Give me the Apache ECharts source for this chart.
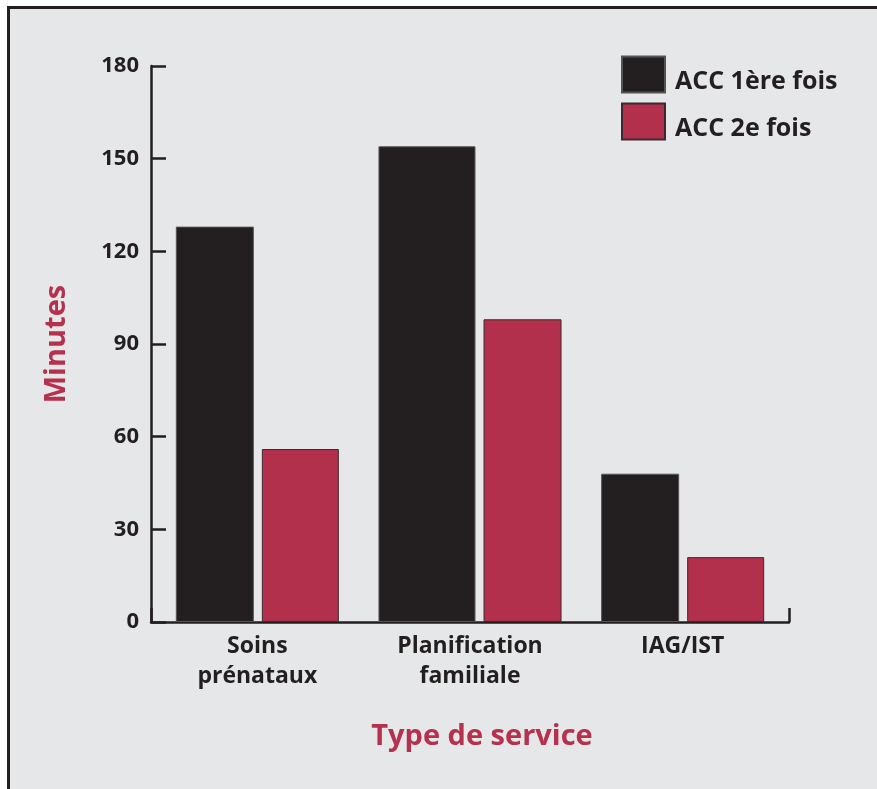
<!DOCTYPE html>
<html>
<head>
<meta charset="utf-8">
<script src="https://cdn.jsdelivr.net/npm/echarts@6/dist/echarts.min.js"></script>
<style>
  html, body { margin: 0; padding: 0; background: #ffffff; }
  #wrap { position: relative; width: 877px; height: 789px; overflow: hidden; background: #ffffff; }
  #panel { position: absolute; left: 7px; top: 6px; width: 900px; height: 900px;
           background: #e6e7e9; border: 3px solid #231f20; }
  #chart { position: absolute; left: 0; top: 0; width: 877px; height: 789px; }
</style>
</head>
<body>
<div id="wrap">
  <div id="panel"></div>
  <div id="chart"></div>
</div>
<script>
// Temps moyen (minutes) par type de service
const categories = ['Soins\nprénataux', 'Planification\nfamiliale', 'IAG/IST'];
const firstVisit = [128, 154, 48];   // ACC 1ère fois
const secondVisit = [56, 98, 21];    // ACC 2e fois
const yTicks = { min: 0, max: 180, step: 30 };
const seriesNames = ['ACC 1ère fois', 'ACC 2e fois'];

const INK = '#231f20';
const RED = '#b3304c';
const ACCENT = '#b5314e';
const FONT = '"Open Sans", "DejaVu Sans", sans-serif';

// The "Planification familiale" pair is drawn on its own (hidden) category axis,
// since its dark bar is wider than the others.
const wideIdx = 1;
const pick = (arr, keep) => arr.map((v, i) => (keep(i) ? v : '-'));

const chart = echarts.init(document.getElementById('chart'), null, { renderer: 'canvas' });

chart.setOption({
  backgroundColor: 'transparent',
  animation: false,
  grid: { left: 151, right: 88, top: 66, bottom: 167, containLabel: false },
  legend: {
    data: seriesNames,
    orient: 'vertical',
    left: 621,
    top: 55,
    padding: 0,
    itemWidth: 43,
    itemHeight: 36,
    itemGap: 8,
    icon: 'rect',
    formatter: '{t|{name}}',
    textStyle: {
      color: INK, fontFamily: FONT, fontWeight: 'bold', fontSize: 25,
      rich: {
        t: { color: INK, fontFamily: FONT, fontWeight: 'bold', fontSize: 25,
             lineHeight: 26, padding: [14, 0, 0, 5] }
      }
    }
  },
  xAxis: [
    {
      type: 'category',
      data: categories,
      axisLine: { show: true, lineStyle: { color: INK, width: 2.5 } },
      axisTick: {
        show: true, inside: true, length: 14,
        interval: (index) => index === 0,
        lineStyle: { color: INK, width: 2.5 }
      },
      axisLabel: {
        color: INK, fontFamily: FONT, fontWeight: 'bold', fontSize: 23,
        lineHeight: 30, margin: 9
      }
    },
    {
      type: 'category',
      data: categories,
      show: false
    }
  ],
  yAxis: {
    type: 'value',
    min: yTicks.min,
    max: yTicks.max,
    interval: yTicks.step,
    name: 'Minutes',
    nameLocation: 'middle',
    nameGap: 80,
    nameRotate: 90,
    nameTextStyle: { color: ACCENT, fontFamily: FONT, fontWeight: 'bold', fontSize: 29 },
    axisLine: { show: true, lineStyle: { color: INK, width: 2.5 } },
    axisTick: { show: true, inside: true, length: 15, lineStyle: { color: INK, width: 2.5 } },
    splitLine: { show: false },
    axisLabel: { color: INK, fontFamily: FONT, fontWeight: 'bold', fontSize: 22, margin: 12 }
  },
  graphic: [{
    type: 'text',
    x: 482,
    y: 737,
    style: {
      text: 'Type de service',
      fill: ACCENT,
      font: 'bold 29px ' + FONT,
      textAlign: 'center',
      textVerticalAlign: 'middle'
    }
  }],
  series: [
    {
      name: seriesNames[0], type: 'bar', xAxisIndex: 0,
      data: pick(firstVisit, (i) => i !== wideIdx),
      barWidth: 78, barGap: '10.3%',
      itemStyle: { color: INK, borderColor: '#555254', borderWidth: 1 }
    },
    {
      name: seriesNames[1], type: 'bar', xAxisIndex: 0,
      data: pick(secondVisit, (i) => i !== wideIdx),
      barWidth: 77, barGap: '10.3%',
      itemStyle: { color: RED, borderColor: '#3d2a30', borderWidth: 1 }
    },
    {
      name: seriesNames[0], type: 'bar', xAxisIndex: 1,
      data: pick(firstVisit, (i) => i === wideIdx),
      barWidth: 97, barGap: '8.3%',
      itemStyle: { color: INK, borderColor: '#555254', borderWidth: 1 }
    },
    {
      name: seriesNames[1], type: 'bar', xAxisIndex: 1,
      data: pick(secondVisit, (i) => i === wideIdx),
      barWidth: 78, barGap: '8.3%',
      itemStyle: { color: RED, borderColor: '#3d2a30', borderWidth: 1 }
    }
  ]
});
</script>
</body>
</html>
